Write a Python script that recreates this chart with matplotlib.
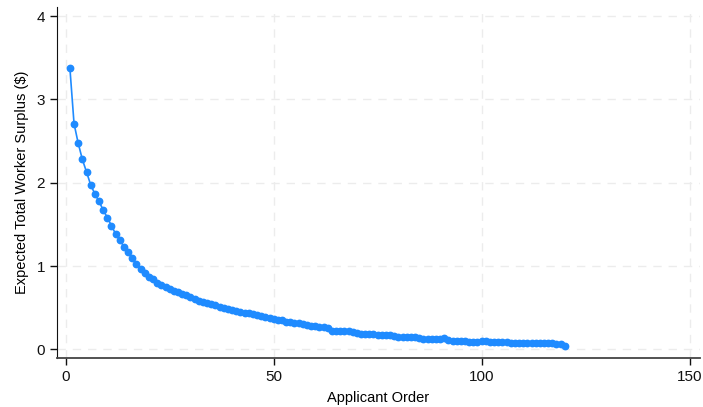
import matplotlib

matplotlib.use("Agg")

import matplotlib.pyplot as plt

plt.rcParams["font.family"] = ["Liberation Sans", "DejaVu Sans"]

# Expected total worker surplus by applicant order
applicant_order = list(range(1, 121))
surplus = [
    3.38, 2.71, 2.475, 2.28, 2.13, 1.975, 1.867, 1.776, 1.674, 1.582,
    1.485, 1.385, 1.313, 1.231, 1.168, 1.10, 1.025, 0.97, 0.914, 0.872,
    0.844, 0.80, 0.772, 0.748, 0.724, 0.704, 0.684, 0.664, 0.652, 0.628,
    0.604, 0.583, 0.571, 0.556, 0.547, 0.532, 0.508, 0.496, 0.484, 0.468,
    0.46, 0.448, 0.436, 0.43, 0.418, 0.41, 0.396, 0.384, 0.372, 0.364,
    0.356, 0.347, 0.333, 0.325, 0.318, 0.31, 0.298, 0.292, 0.282, 0.278,
    0.266, 0.262, 0.25, 0.222, 0.218, 0.222, 0.223, 0.216, 0.205, 0.196,
    0.188, 0.186, 0.18, 0.178, 0.176, 0.172, 0.17, 0.166, 0.158, 0.15,
    0.146, 0.145, 0.142, 0.144, 0.132, 0.126, 0.124, 0.122, 0.12, 0.128,
    0.132, 0.11, 0.104, 0.10, 0.096, 0.094, 0.092, 0.092, 0.093, 0.094,
    0.096, 0.092, 0.088, 0.086, 0.084, 0.082, 0.079, 0.077, 0.076, 0.074,
    0.073, 0.072, 0.072, 0.074, 0.078, 0.074, 0.07, 0.066, 0.062, 0.04,
]
x_ticks = [0, 50, 100, 150]
y_ticks = [0, 1, 2, 3, 4]

fig = plt.figure(figsize=(7.03, 4.07), dpi=100)
ax = fig.add_axes([0.0807, 0.1197, 0.915, 0.863])

ax.plot(
    applicant_order,
    surplus,
    color="#1f8bff",
    linewidth=1.2,
    marker="o",
    markersize=4.6,
    zorder=3,
)

ax.set_xlim(-2.16, 152.5)
ax.set_ylim(-0.108, 4.11)
ax.set_xticks(x_ticks)
ax.set_yticks(y_ticks)

ax.grid(True, color="#ececec", linestyle=(0, (6, 5)), linewidth=1.0, zorder=0)

for side in ["top", "right"]:
    ax.spines[side].set_visible(False)
ax.spines["left"].set_color("#111111")
ax.spines["bottom"].set_color("#444444")
ax.spines["bottom"].set_linewidth(1.3)

ax.tick_params(axis="both", direction="out", length=5, width=1.0,
               labelsize=11, colors="#111111")

ax.set_xlabel("Applicant Order", fontsize=10.5, labelpad=5)
ax.set_ylabel("Expected Total Worker Surplus ($)", fontsize=10.5, labelpad=5)

fig.savefig("out.png", dpi=100)
plt.close(fig)
